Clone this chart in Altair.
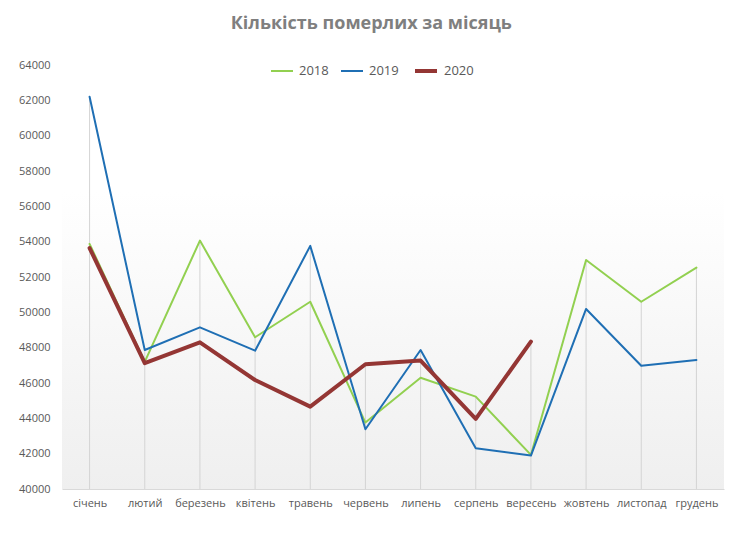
import altair as alt
import pandas as pd

months = ["січень", "лютий", "березень", "квітень", "травень", "червень",
          "липень", "серпень", "вересень", "жовтень", "листопад", "грудень"]
years = ["2018", "2019", "2020"]
d2018 = [53870, 47200, 54060, 48590, 50600, 43760, 46300, 45230, 41930, 52960, 50600, 52530]
d2019 = [62200, 47870, 49150, 47830, 53760, 43380, 47870, 42310, 41890, 50190, 46980, 47300]
d2020 = [53640, 47120, 48300, 46170, 44660, 47060, 47270, 43970, 48340]
colors = ["#92d050", "#1f6fb4", "#943634"]
widths = [2, 2, 4]
y_ticks = list(range(40000, 64001, 2000))

rows = []
for yr, vals in zip(years, [d2018, d2019, d2020]):
    for m, v in zip(months, vals):
        rows.append({"month": m, "year": yr, "value": v})
df = pd.DataFrame(rows)

W, H = 662, 424
font = "Open Sans"

x_axis = alt.Axis(title=None, labelAngle=0, ticks=False, grid=False,
                  domainColor="#d9d9d9", labelColor="#595959",
                  labelFontSize=11, labelFont=font, labelPadding=8)
y_axis = alt.Axis(title=None, values=y_ticks, format="d", grid=False,
                  domain=False, ticks=False, labelColor="#595959",
                  labelFontSize=11, labelFont=font, labelPadding=12,
                  labelOverlap=False, labelBound=False)

x_scale = alt.Scale(type="point", padding=0.5)
y_scale = alt.Scale(domain=[40000, 64000], nice=False, zero=False)

bg = alt.Chart(pd.DataFrame({"a": [0]})).mark_rect(
    color=alt.Gradient(gradient="linear",
                       stops=[alt.GradientStop(color="#ffffff", offset=0),
                              alt.GradientStop(color="#ffffff", offset=0.3),
                              alt.GradientStop(color="#efefef", offset=1)],
                       x1=0, x2=0, y1=0, y2=1)
).encode(x=alt.value(0), x2=alt.value(W), y=alt.value(0), y2=alt.value(H))

drops = alt.Chart(df).mark_rule(color="#d4d4d4", strokeWidth=1).encode(
    x=alt.X("month:N", sort=months, scale=x_scale, axis=x_axis),
    y=alt.Y("max(value):Q", scale=y_scale, axis=y_axis),
    y2=alt.Y2(datum=40000),
)

leg = dict(title=None, orient="none", legendX=208, legendY=-7,
           direction="horizontal", labelFontSize=13, labelColor="#595959",
           labelFont=font, symbolSize=484, columnPadding=8, labelOffset=5)

lines = alt.Chart(df).mark_line(strokeCap="round", strokeJoin="round").encode(
    x=alt.X("month:N", sort=months, scale=x_scale, axis=x_axis),
    y=alt.Y("value:Q", scale=y_scale, axis=y_axis),
    color=alt.Color("year:O", scale=alt.Scale(domain=years, range=colors),
                    legend=alt.Legend(**leg)),
    strokeWidth=alt.StrokeWidth("year:O",
                                scale=alt.Scale(type="ordinal", domain=years, range=widths),
                                legend=alt.Legend(**leg)),
    order=alt.Order("year:O"),
)

chart = alt.layer(bg, drops, lines).properties(
    width=W, height=H,
    autosize=alt.AutoSizeParams(type="none"),
    padding={"left": 54, "top": 57, "right": 6, "bottom": 30},
    title=alt.Title("Кількість померлих за місяць", fontSize=18, fontWeight="bold",
                    color="#7f7f7f", font=font, anchor="middle", frame="bounds",
                    offset=25),
).configure_view(stroke=None).configure_axisY(labelOverlap=False)

chart.save("out.html", embed_options={"renderer": "svg", "actions": False})
